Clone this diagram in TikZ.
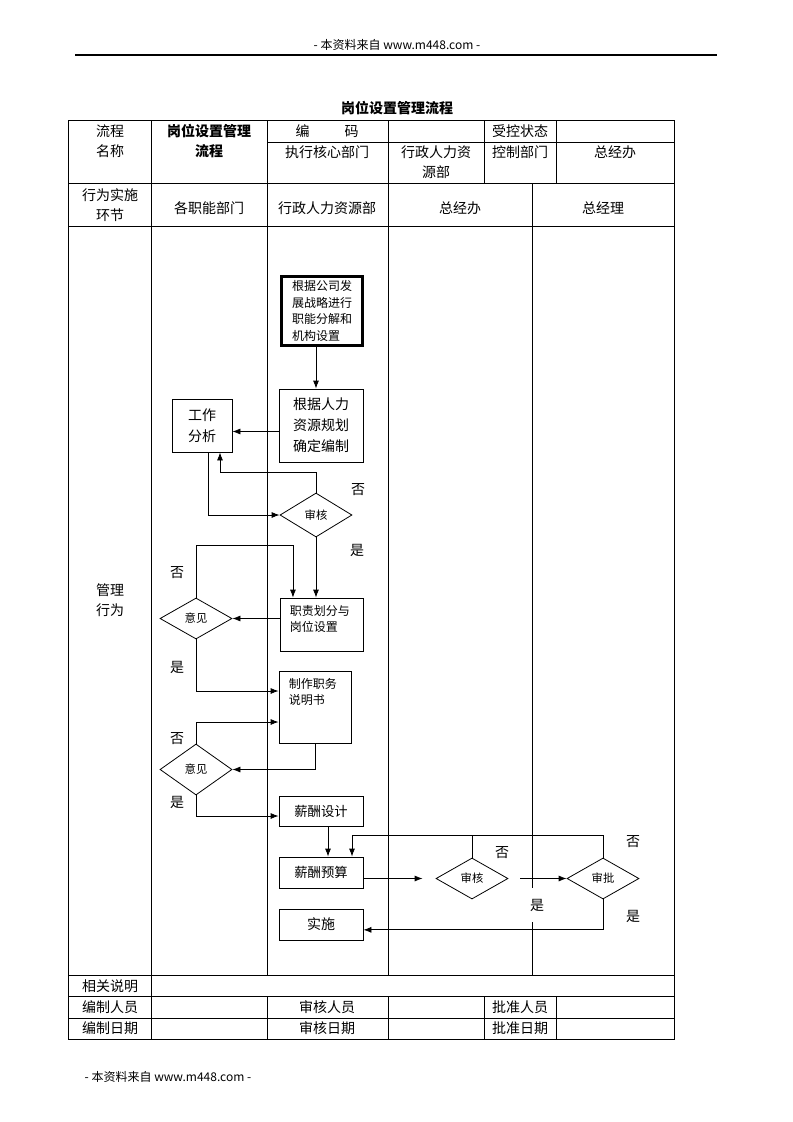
\documentclass[tikz,border=0pt]{standalone}
\usepackage{fontspec}
\setmainfont{Noto Sans CJK SC}
\usetikzlibrary{arrows.meta,shapes.geometric}

\begin{document}
\begin{tikzpicture}[x=0.75pt,y=-0.75pt,>={Latex[length=6pt,width=4.5pt]},
    font=\fontsize{10.5}{15}\selectfont,
    cell/.style={align=center,inner sep=0pt},
    small/.style={font=\fontsize{9}{12.5}\selectfont},
    box/.style={draw,line width=0.6pt,inner sep=0pt,align=center},
    decide/.style={diamond,draw,line width=0.6pt,inner sep=0pt,font=\fontsize{8.5}{10}\selectfont,minimum width=54pt},
    toptext/.style={anchor=north west,align=left,inner sep=0pt,font=\fontsize{9}{12}\selectfont},
    flow/.style={line width=0.6pt,->},
    yesno/.style={inner sep=1pt},
    grid/.style={line width=0.75pt}]
  \useasboundingbox (0,0) rectangle (793,1122);

  % page header and footer
  \node[small] (head) at (397,45) {- 本资料来自 www.m448.com -};
  \draw[line width=0.8pt] (75,55) -- (717,55);
  \node[small,anchor=west] (foot) at (80,1077) {- 本资料来自 www.m448.com -};
  \node[font=\bfseries\fontsize{10.5}{12}\selectfont] (title) at (397,108) {岗位设置管理流程};

  % table frame
  \draw[grid] (68,120) rectangle (674,1039);
  \draw[grid] (267,142) -- (674,142);
  \foreach \y in {183,226,975,996,1018}
    \draw[grid] (68,\y) -- (674,\y);
  \draw[grid] (151,120) -- (151,1039);
  \foreach \x in {267,388}
    \draw[grid] (\x,120) -- (\x,975) (\x,996) -- (\x,1039);
  \foreach \x in {484,556}
    \draw[grid] (\x,120) -- (\x,183) (\x,996) -- (\x,1039);
  \draw[grid] (532,183) -- (532,975);

  % table texts
  \node[cell] (procname) at (110,141.5) {流程\\名称};
  \node[cell,font=\bfseries\fontsize{10.5}{15}\selectfont] (procval) at (209,141.5) {岗位设置管理\\流程};
  \node[cell] (code) at (327,131) {编\hspace{2.5em}码};
  \node[cell] (ctrl) at (520,131) {受控状态};
  \node[cell] (core) at (327,152) {执行核心部门};
  \node[cell] (hrtop) at (436,162) {行政人力资\\源部};
  \node[cell] (ctrldept) at (520,152) {控制部门};
  \node[cell] (gotop) at (615,152) {总经办};
  \node[cell] (stage) at (110,205) {行为实施\\环节};
  \node[cell] (lane1) at (209,208) {各职能部门};
  \node[cell] (lane2) at (327,208) {行政人力资源部};
  \node[cell] (lane3) at (460,208) {总经办};
  \node[cell] (lane4) at (603,208) {总经理};
  \node[cell] (manage) at (110,600) {管理\\行为};
  \node[cell] (notes) at (110,986) {相关说明};
  \node[cell] (maker) at (110,1007) {编制人员};
  \node[cell] (checker) at (327,1007) {审核人员};
  \node[cell] (approver) at (520,1007) {批准人员};
  \node[cell] (makedate) at (110,1028.5) {编制日期};
  \node[cell] (checkdate) at (327,1028.5) {审核日期};
  \node[cell] (approvedate) at (520,1028.5) {批准日期};

  % flow steps
  \node[box,line width=2.2pt,minimum width=61pt,minimum height=52pt,small,text width=45pt,align=left] (plan) at (322,311) {根据公司发\\展战略进行\\职能分解和\\机构设置};
  \node[box,minimum width=63pt,minimum height=54.75pt,font=\fontsize{10.5}{15.75}\selectfont] (staff) at (321,425.5) {根据人力\\资源规划\\确定编制};
  \node[box,minimum width=45pt,minimum height=39.75pt,font=\fontsize{10.5}{15.5}\selectfont] (work) at (202,425.5) {工作\\分析};
  \node[decide,minimum height=33pt] (check1) at (316,515) {审核};
  \node[box,minimum width=62.25pt,minimum height=39.75pt,
    label={[toptext,xshift=7.5pt,yshift=-6pt]north west:职责划分与\\岗位设置}] (duty) at (321.5,624.5) {};
  \node[decide,minimum height=30.75pt] (opin1) at (196,618.5) {意见};
  \node[box,minimum width=54pt,minimum height=54pt,
    label={[toptext,xshift=7.5pt,yshift=-5.5pt]north west:制作职务\\说明书}] (desc) at (315,707) {};
  \node[decide,minimum height=38.25pt] (opin2) at (196,769.5) {意见};
  \node[box,minimum width=63pt,minimum height=22.5pt,font=\fontsize{10}{12}\selectfont] (salary) at (321,811) {薪酬设计};
  \node[box,minimum width=63pt,minimum height=23.25pt,font=\fontsize{10}{12}\selectfont] (budget) at (321,872.5) {薪酬预算};
  \node[box,minimum width=63pt,minimum height=23.25pt] (impl) at (321,924.5) {实施};
  \node[decide,minimum height=30.75pt] (check2) at (472,878.5) {审核};
  \node[decide,minimum height=30.75pt] (approve) at (603,878.5) {审批};

  % connectors
  \draw[flow] (plan.south -| check1.north) -- (staff.north -| check1.north);
  \draw[flow] ([yshift=-4.5pt]staff.west) -- ([yshift=-4.5pt]work.east);
  \draw[flow] (check1.north) -- ++(0,-20) -| ([xshift=13.5pt]work.south);
  \draw[flow] ([xshift=4.5pt]work.south) |- (check1.west);
  \draw[flow] (check1.south) -- (check1.south |- duty.north);
  \draw[flow] (opin1.north) -- ++(0,-52) -| ([xshift=-21.4pt]duty.north);
  \draw[flow] (duty.west |- opin1.east) -- (opin1.east);
  \draw[flow] (opin1.south) |- ([yshift=12pt]desc.west);
  \draw[flow] (opin2.north) |- ([yshift=-11.25pt]desc.west);
  \draw[flow] (desc.south) |- (opin2.east);
  \draw[flow] (opin2.south) |- ([yshift=-3.75pt]salary.west);
  \draw[flow] ([xshift=5.25pt]salary.south) -- ([xshift=5.25pt]budget.north);
  \draw[flow,shorten >=9.75pt] (budget.east |- check2.west) -- (check2.west);
  \draw[flow,shorten <=9pt] (check2.east) -- (approve.west);
  \draw[flow] (check2.north) -- ++(0,-22) -| ([xshift=23.25pt]budget.north);
  \draw[line width=0.6pt] (approve.north) |- ([yshift=16.5pt]check2.north);
  \draw[flow] (approve.south) |- ([yshift=-4pt]impl.east);

  % yes / no marks
  \node[yesno] (no1) at (358,490) {否};
  \node[yesno] (yes1) at (357,550) {是};
  \node[yesno] (no2) at (177,573) {否};
  \node[yesno] (yes2) at (177,667) {是};
  \node[yesno] (no3) at (177,739) {否};
  \node[yesno] (yes3) at (177,802) {是};
  \node[yesno] (no4) at (502,853) {否};
  \node[yesno] (no5) at (633,842) {否};
  \node[yesno,fill=white,minimum height=25pt] (yes4) at (537,905) {是};
  \node[yesno] (yes5) at (633,916) {是};
\end{tikzpicture}
\end{document}
